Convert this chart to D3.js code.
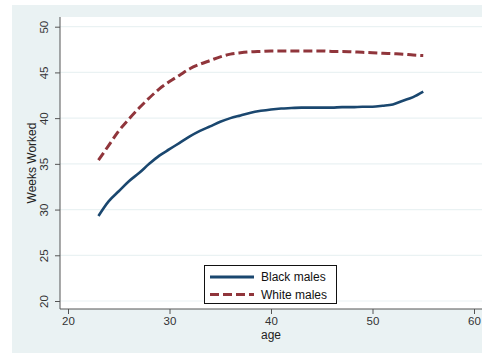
<!DOCTYPE html>
<html>
<head>
<meta charset="utf-8">
<script src="https://cdn.jsdelivr.net/npm/d3@7"></script>
<style>
  body { margin: 0; background: #fff; }
  svg { display: block; font-family: "Liberation Sans", Arial, sans-serif; }
</style>
</head>
<body>
<div id="chart"></div>
<script>
// ages 23..55
const ages = d3.range(23, 56);
const blackMales = [29.3, 30.9, 32.0, 33.1, 34.0, 35.0, 35.9, 36.6, 37.3, 38.0, 38.6,
  39.1, 39.6, 40.0, 40.3, 40.6, 40.8, 40.95, 41.05, 41.1, 41.15, 41.15, 41.15, 41.15,
  41.2, 41.2, 41.25, 41.25, 41.35, 41.5, 41.9, 42.3, 42.9];
const whiteMales = [35.4, 37.0, 38.6, 39.9, 41.1, 42.2, 43.2, 44.0, 44.7, 45.4, 45.9,
  46.3, 46.7, 47.0, 47.15, 47.25, 47.3, 47.35, 47.35, 47.35, 47.35, 47.35, 47.35, 47.3,
  47.3, 47.25, 47.2, 47.15, 47.1, 47.05, 47.0, 46.9, 46.85];
const xTicks = [20, 30, 40, 50, 60];
const yTicks = [20, 25, 30, 35, 40, 45, 50];
const seriesNames = ["Black males", "White males"];

const width = 489, height = 353;
const navy = "#1a476f", maroon = "#90353b";

const svg = d3.select("#chart").append("svg")
  .attr("width", width).attr("height", height);

// outer graph region
svg.append("rect")
  .attr("x", 12).attr("y", 5).attr("width", 470).attr("height", 348)
  .attr("fill", "#eaf2f3");

const plot = { left: 60, right: 482, top: 17, bottom: 309 };
svg.append("rect")
  .attr("x", plot.left).attr("y", plot.top)
  .attr("width", plot.right - plot.left).attr("height", plot.bottom - plot.top)
  .attr("fill", "#fff");

const x = d3.scaleLinear().domain([20, 60]).range([68, 474]);
const y = d3.scaleLinear().domain([20, 50]).range([301, 26.7]);

// gridlines
svg.append("g").selectAll("line")
  .data(yTicks)
  .enter().append("line")
  .attr("x1", plot.left).attr("x2", plot.right)
  .attr("y1", d => y(d)).attr("y2", d => y(d))
  .attr("stroke", "#eaf2f3").attr("stroke-width", 1.2);

// y axis
const yAxis = svg.append("g")
  .attr("transform", `translate(${plot.left},0)`)
  .call(d3.axisLeft(y).tickValues(yTicks).tickSize(5).tickSizeOuter(0));
yAxis.select(".domain").remove();
yAxis.append("line")
  .attr("x1", 0).attr("x2", 0).attr("y1", plot.top).attr("y2", plot.bottom)
  .attr("stroke", "#555");
yAxis.selectAll(".tick line").attr("stroke", "#555");
yAxis.selectAll(".tick text")
  .attr("x", 0).attr("dy", 0)
  .attr("transform", "translate(-12,0) rotate(-90)")
  .attr("text-anchor", "middle")
  .style("font-size", "11.5px").attr("fill", "#333");

// x axis
const xAxis = svg.append("g")
  .attr("transform", `translate(0,${plot.bottom})`)
  .call(d3.axisBottom(x).tickValues(xTicks).tickSize(5).tickSizeOuter(0));
xAxis.select(".domain").remove();
xAxis.append("line")
  .attr("x1", plot.left).attr("x2", plot.right).attr("y1", 0).attr("y2", 0)
  .attr("stroke", "#555");
xAxis.selectAll(".tick line").attr("stroke", "#555");
xAxis.selectAll(".tick text")
  .attr("y", 8).attr("dy", "0.71em")
  .style("font-size", "11.5px").attr("fill", "#333");

// axis titles
svg.append("text")
  .attr("x", x(40)).attr("y", 339)
  .attr("text-anchor", "middle")
  .style("font-size", "12px").attr("fill", "#222")
  .text("age");
svg.append("text")
  .attr("transform", `translate(36,${(plot.top + plot.bottom) / 2}) rotate(-90)`)
  .attr("text-anchor", "middle")
  .style("font-size", "12px").attr("fill", "#222")
  .text("Weeks Worked");

// lines
const line = d3.line()
  .x((d, i) => x(ages[i]))
  .y(d => y(d))
  .curve(d3.curveMonotoneX);

svg.append("path")
  .attr("d", line(whiteMales))
  .attr("fill", "none").attr("stroke", maroon)
  .attr("stroke-width", 3).attr("stroke-dasharray", "9,4");

svg.append("path")
  .attr("d", line(blackMales))
  .attr("fill", "none").attr("stroke", navy)
  .attr("stroke-width", 2.6);

// legend
const legend = svg.append("g");
legend.append("rect")
  .attr("x", 204.5).attr("y", 265.5).attr("width", 132).attr("height", 38)
  .attr("fill", "#fff").attr("stroke", "#111").attr("stroke-width", 1);
const styles = [{ c: navy, dash: null }, { c: maroon, dash: "9,4" }];
seriesNames.forEach((name, i) => {
  const ly = 277 + i * 17.5;
  legend.append("line")
    .attr("x1", 210).attr("x2", 254).attr("y1", ly).attr("y2", ly)
    .attr("stroke", styles[i].c).attr("stroke-width", 3)
    .attr("stroke-dasharray", styles[i].dash);
  legend.append("text")
    .attr("x", 261).attr("y", ly).attr("dy", "0.35em")
    .style("font-size", "12px").attr("fill", "#111")
    .text(name);
});
</script>
</body>
</html>
